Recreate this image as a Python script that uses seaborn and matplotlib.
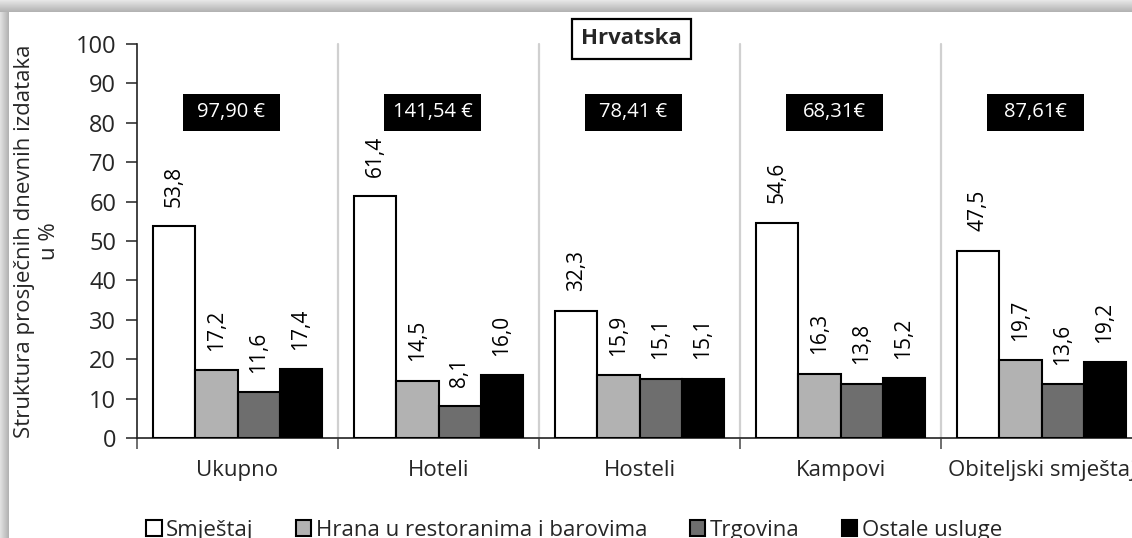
import numpy as np
import pandas as pd
import seaborn as sns
import matplotlib.pyplot as plt
from matplotlib.patches import Rectangle, Patch

categories = ["Ukupno", "Hoteli", "Hosteli", "Kampovi", "Obiteljski smještaj"]
series = ["Smještaj", "Hrana u restoranima i barovima", "Trgovina", "Ostale usluge"]
smjestaj = [53.8, 61.4, 32.3, 54.6, 47.5]
hrana = [17.2, 14.5, 15.9, 16.3, 19.7]
trgovina = [11.6, 8.1, 15.1, 13.8, 13.6]
ostale = [17.4, 16.0, 15.1, 15.2, 19.2]
daily_spend = ["97,90 €", "141,54 €", "78,41 €", "68,31€", "87,61€"]
title = "Hrvatska"
colors = ["#ffffff", "#b2b2b2", "#6e6e6e", "#000000"]

values = [smjestaj, hrana, trgovina, ostale]
rows = []
for s, vals in zip(series, values):
    for c, v in zip(categories, vals):
        rows.append({"cat": c, "series": s, "val": v})
df = pd.DataFrame(rows)

sns.set_theme(style="white")
plt.rcParams["font.family"] = ["Open Sans", "DejaVu Sans"]

W, H = 1132, 538
fig = plt.figure(figsize=(W / 100, H / 100), dpi=100)
fig.patch.set_facecolor("white")

# shadow frame (top and left)
top_cols = np.linspace(0.90, 0.70, 12)
for i, g in enumerate(top_cols):
    fig.add_artist(Rectangle((0, 1 - (i + 1) / H), 1, 1 / H, transform=fig.transFigure,
                             facecolor=(g, g, g), edgecolor="none", zorder=-5))
left_cols = np.linspace(0.88, 0.70, 9)
for i, g in enumerate(left_cols):
    fig.add_artist(Rectangle((i / W, 0), 1 / W, 1 - 12 / H, transform=fig.transFigure,
                             facecolor=(g, g, g), edgecolor="none", zorder=-5))

ax = fig.add_axes([137 / W, 100 / H, 1005 / W, 394 / H])
ax.set_facecolor("none")

sns.barplot(data=df, x="cat", y="val", hue="series", order=categories, hue_order=series,
            palette=colors, saturation=1, width=0.84, edgecolor="black", linewidth=1.5,
            errorbar=None, legend=False, ax=ax, zorder=3)

for cont, vals in zip(ax.containers, values):
    ax.bar_label(cont, labels=[f"{v:.1f}".replace(".", ",") for v in vals],
                 rotation=90, padding=14, fontsize=15, color="black")

# group separators
for b in np.arange(0.5, 5, 1):
    ax.plot([b, b], [0, 100], color="#d0d0d0", lw=1.6, zorder=1, clip_on=False)

# daily spend boxes
for i, t in enumerate(daily_spend):
    ax.add_patch(Rectangle((i - 0.27, 78.0), 0.48, 9.4, facecolor="black", edgecolor="none", zorder=4))
    ax.text(i - 0.03, 82.7, t, color="white", ha="center", va="center", fontsize=14.5, zorder=5)

ax.text(1.96, 101.3, title, ha="center", va="center", fontsize=16, fontweight="bold",
        bbox=dict(boxstyle="square,pad=0.42", facecolor="white", edgecolor="black", linewidth=1.6),
        clip_on=False, zorder=6)

ax.set_xlim(-0.5, 4.5)
ax.set_ylim(0, 100)
ax.set_yticks(np.arange(0, 101, 10))
ax.set_xticks(range(len(categories)))
ax.set_xticklabels(categories)
ax.set_xticks(np.arange(-0.5, 5, 1), minor=True)
ax.tick_params(axis="x", which="major", length=0, pad=16, labelsize=16, bottom=True)
ax.tick_params(axis="x", which="minor", length=8, width=1.2, color="#555555", bottom=True)
ax.tick_params(axis="y", length=8, width=1.2, color="#333333", pad=7, labelsize=17, left=True)

for sp in ["top", "right"]:
    ax.spines[sp].set_visible(False)
for sp in ["left", "bottom"]:
    ax.spines[sp].set_color("#222222")
    ax.spines[sp].set_linewidth(1.2)

ax.set_xlabel("")
ax.set_ylabel("Struktura prosječnih dnevnih izdataka\nu %", fontsize=16, linespacing=1.2)
ax.yaxis.set_label_coords(-0.077, 0.5)

handles = [Patch(facecolor=c, edgecolor="black", linewidth=1.5) for c in colors]
fig.legend(handles, series, loc="center", bbox_to_anchor=(0.507, 0.014), ncol=4,
           frameon=False, fontsize=16, handlelength=0.7, handleheight=0.7,
           handletextpad=0.2, columnspacing=1.9)

fig.savefig("out.png", dpi=100)
